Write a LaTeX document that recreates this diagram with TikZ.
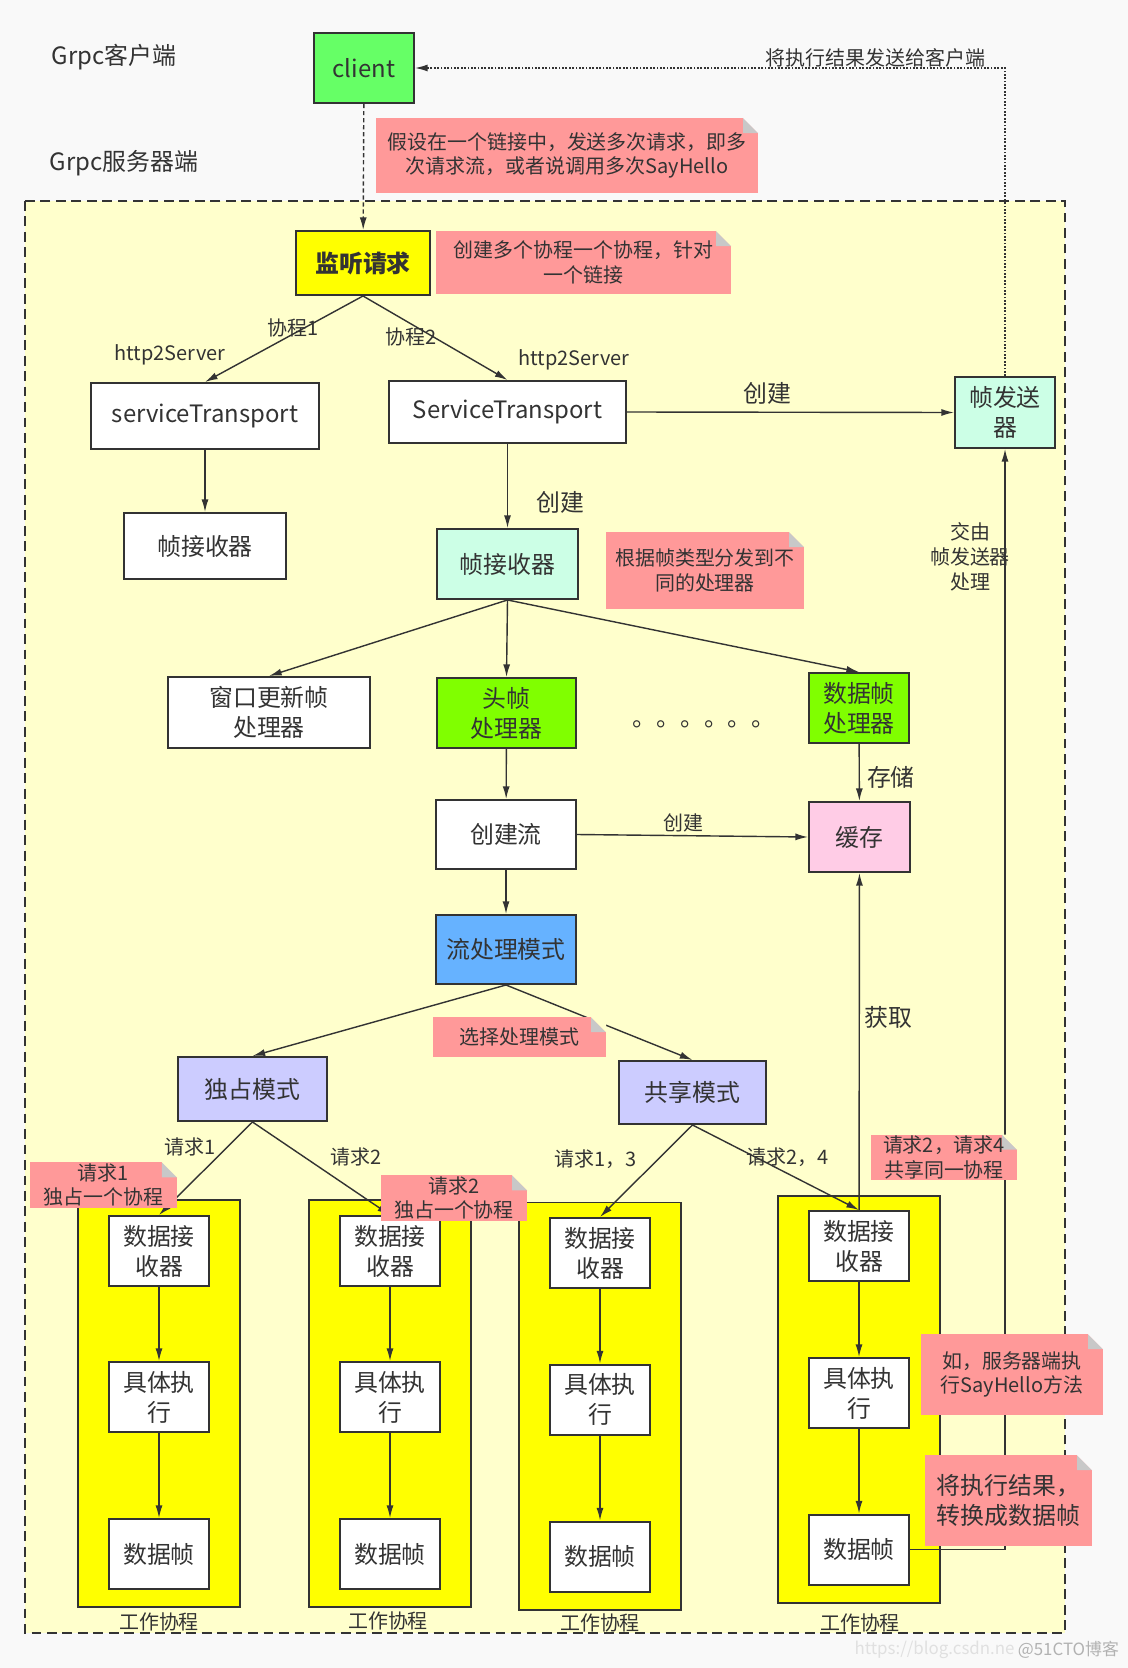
\documentclass[tikz,border=0pt]{standalone}
\usepackage{fontspec}
\setmainfont{Noto Sans CJK SC}
\usetikzlibrary{arrows.meta}

\definecolor{pagebg}{HTML}{F9F9F9}
\definecolor{srvbg}{HTML}{FFFFCC}
\definecolor{linedark}{HTML}{333333}
\definecolor{textdark}{HTML}{333333}
\definecolor{notepink}{HTML}{FF9999}
\definecolor{foldgray}{HTML}{C8C8C8}
\definecolor{clientgreen}{HTML}{66FF66}
\definecolor{mint}{HTML}{CCFFE6}
\definecolor{headgreen}{HTML}{80FF00}
\definecolor{cachepink}{HTML}{FFCCE6}
\definecolor{modeblue}{HTML}{66B2FF}
\definecolor{modepurple}{HTML}{CCCCFF}
\definecolor{workyellow}{HTML}{FFFF00}

\newcommand\boxfont{\fontsize{17}{21.3}\selectfont}
\newcommand\notefont{\fontsize{14.2}{17.3}\selectfont}
\newcommand\foldsz{0.375cm}

\tikzset{
	>={Latex[length=9pt,width=5pt]},
	wh/.style 2 args={minimum width=#1*0.025cm, minimum height=#2*0.025cm},
	box/.style={draw=linedark, line width=1.4pt, fill=white, text=textdark, font=\boxfont, align=center, inner sep=1pt},
	workframe/.style={draw=linedark, line width=1.4pt, fill=workyellow},
	note/.style={fill=notepink, text=textdark, font=\notefont, align=center, inner sep=1pt,
		path picture={\fill[foldgray] ([xshift=-\foldsz]path picture bounding box.north east) -- ([xshift=-\foldsz, yshift=-\foldsz]path picture bounding box.north east) -- ([yshift=-\foldsz]path picture bounding box.north east) -- cycle;
			\fill[#1] ([xshift=-\foldsz]path picture bounding box.north east) -- (path picture bounding box.north east) -- ([yshift=-\foldsz]path picture bounding box.north east) -- cycle;}},
	note/.default=srvbg,
	lbl/.style={text=textdark, font=\notefont, inner sep=2pt, align=center},
	biglbl/.style={lbl, font=\boxfont},
	conn/.style={draw=linedark, line width=1pt, ->}
}

\begin{document}
\begin{tikzpicture}[x=0.025cm, y=-0.025cm]
		\useasboundingbox (0,0) rectangle (1128,1668);
		\fill[pagebg] (0,0) rectangle (1128,1668);
		\draw[linedark, line width=1.4pt, dash pattern=on 7pt off 4pt, fill=srvbg] (25,201) rectangle (1065,1633);

		\node[biglbl] (cliLbl) at (114,57) {Grpc客户端};
		\node[biglbl] (srvLbl) at (124,163) {Grpc服务器端};

		\node[box, wh={100}{70}, fill=clientgreen] (client) at (364,68) {client};
		\node[box, wh={134}{64}, fill=workyellow, font=\boxfont\bfseries] (listen) at (363,263) {监听请求};
		\node[box, wh={228}{66}] (stL) at (205,416) {serviceTransport};
		\node[box, wh={237}{62}] (stR) at (507.5,412) {ServiceTransport};
		\node[box, wh={100}{71}, fill=mint] (sender) at (1005,412.5) {帧发送\\器};
		\node[box, wh={162}{66}] (recvL) at (205,546) {帧接收器};
		\node[box, wh={141}{70}, fill=mint] (recvM) at (507.5,564) {帧接收器};
		\node[box, wh={202}{71}] (winUpd) at (269,712.5) {窗口更新帧\\处理器};
		\node[box, wh={139}{70}, fill=headgreen] (hdr) at (506.5,713) {头帧\\处理器};
		\node[box, wh={100}{70}, fill=headgreen] (dataProc) at (859,708) {数据帧\\处理器};
		\node[biglbl, inner sep=0pt] (dots) at (704,724) {。。。。。。};
		\node[box, wh={101}{70}, fill=cachepink] (cache) at (859.5,837) {缓存};
		\node[box, wh={140}{69}] (crStream) at (506,834.5) {创建流};
		\node[box, wh={140}{69}, fill=modeblue] (modeSel) at (506,949.5) {流处理模式};
		\node[box, wh={149}{64}, fill=modepurple] (excl) at (252.5,1089) {独占模式};
		\node[box, wh={147}{63}, fill=modepurple] (shared) at (692.5,1092.5) {共享模式};

		\node[workframe, wh={162}{407}] (w1) at (159,1403.5) {};
		\node[box, wh={100}{70}] (r1) at (159,1251) {数据接\\收器};
		\node[box, wh={100}{70}] (e1) at (159,1397) {具体执\\行};
		\node[box, wh={100}{70}] (d1) at (159,1554) {数据帧};
		\node[lbl] (wl1) at (159,1622) {工作协程};

		\node[workframe, wh={162}{407}] (w2) at (390,1403.5) {};
		\node[box, wh={100}{70}] (r2) at (390,1251) {数据接\\收器};
		\node[box, wh={100}{70}] (e2) at (390,1397) {具体执\\行};
		\node[box, wh={100}{70}] (d2) at (390,1554) {数据帧};
		\node[lbl] (wl2) at (388,1621) {工作协程};

		\node[workframe, wh={162}{407}] (w3) at (600,1406) {};
		\node[box, wh={100}{70}] (r3) at (600,1253) {数据接\\收器};
		\node[box, wh={100}{70}] (e3) at (600,1399.5) {具体执\\行};
		\node[box, wh={100}{70}] (d3) at (600,1556.5) {数据帧};
		\node[lbl] (wl3) at (600,1623) {工作协程};

		\node[workframe, wh={162}{407}] (w4) at (859,1399.5) {};
		\node[box, wh={100}{70}] (r4) at (859,1246) {数据接\\收器};
		\node[box, wh={100}{70}] (e4) at (859,1393) {具体执\\行};
		\node[box, wh={100}{70}] (d4) at (859,1549.5) {数据帧};
		\node[lbl] (wl4) at (860,1623) {工作协程};

		\node[lbl] (h2L) at (170,355) {http2Server};
		\node[lbl] (h2R) at (574,360) {http2Server};
		\node[lbl, font=\fontsize{14.2}{17.8}\selectfont] (hand) at (970,557) {交由\\帧发送器\\处理};

		\draw[conn, dash pattern=on 3pt off 2pt] (client) -- (listen);
		\draw[conn, dash pattern=on 1.2pt off 1.2pt] (sender.north) |- (client.east) node[lbl, pos=.61, above=-2pt] (fbLbl) {将执行结果发送给客户端};
		\draw[conn] (listen.south) -- (stL.north) node[lbl, pos=.44, yshift=4pt] (co1) {协程1};
		\draw[conn] (listen.south) -- (stR.north) node[lbl, pos=.33, below=0pt] (co2) {协程2};
		\draw[conn] (stR.east) -- (sender.west) node[biglbl, pos=.43, above=3pt] (mk1) {创建};
		\draw[conn] (stL) -- (recvL);
		\draw[conn] (stR) -- (recvM) node[biglbl, pos=.69, right=18pt] (mk2) {创建};
		\draw[conn] (recvM.south) -- (winUpd.north);
		\draw[conn] (recvM.south) -- (hdr.north);
		\draw[conn] (recvM.south) -- (dataProc.north);
		\draw[conn] (dataProc) -- (cache) node[biglbl, pos=.59, right=3pt] (mk3) {存储};
		\draw[conn] (hdr) -- (crStream);
		\draw[conn] (crStream.east) -- (cache.west) node[lbl, pos=.46, above=0pt] (mk4) {创建};
		\draw[conn] (crStream) -- (modeSel);
		\draw[conn] (modeSel.south) -- (excl.north);
		\draw[conn] (modeSel.south) -- (shared.north);
		\draw[conn] (excl.south) -- (r1.north) node[lbl, pos=.27, left=6pt] (q1) {请求1};
		\draw[conn] (excl.south) -- (r2.north) node[lbl, pos=.38, right=16pt] (q2) {请求2};
		\draw[conn] (shared.south) -- (r3.north) node[lbl, pos=.37, left=13pt] (q13) {请求1，3};
		\draw[conn] (shared.south) -- (r4.north) node[lbl, pos=.38, right=-9pt] (q24) {请求2，4};
		\draw[conn] (r1) -- (e1);
		\draw[conn] (e1) -- (d1);
		\draw[conn] (r2) -- (e2);
		\draw[conn] (e2) -- (d2);
		\draw[conn] (r3) -- (e3);
		\draw[conn] (e3) -- (d3);
		\draw[conn] (r4) -- (e4);
		\draw[conn] (e4) -- (d4);
		\draw[conn] (r4) -- (cache) node[biglbl, pos=.57, right=1pt] (mk5) {获取};
		\draw[conn] (d4.east) -| (sender.south);

		\node[note=pagebg, wh={382}{75}] (nReq) at (567,155.5) {假设在一个链接中，发送多次请求，即多\\次请求流，或者说调用多次SayHello};
		\node[note, wh={295}{63}] (nCoro) at (583.5,262.5) {创建多个协程一个协程，针对\\一个链接};
		\node[note, wh={198}{77}] (nDisp) at (705,570.5) {根据帧类型分发到不\\同的处理器};
		\node[note, wh={173}{40}] (nMode) at (519.5,1037) {选择处理模式};
		\node[note, wh={147}{44}] (nEx1) at (103.5,1185) {请求1\\独占一个协程};
		\node[note, wh={146}{42}] (nEx2) at (454,1198) {请求2\\独占一个协程};
		\node[note, wh={146}{43}] (nSh) at (944,1157.5) {请求2，请求4\\共享同一协程};
		\node[note=pagebg, wh={182}{81}] (nExec) at (1012,1374.5) {如，服务器端执\\行SayHello方法};
		\node[note=pagebg, wh={167}{91}, font=\boxfont] (nConv) at (1008.5,1500.5) {将执行结果，\\转换成数据帧};

		\node[lbl, text=black!30, font=\fontsize{12}{14}\selectfont, anchor=east] (wm2) at (1122,1650) {@51CTO博客};
		\node[lbl, text=black!12, font=\fontsize{12}{14}\selectfont, anchor=east, inner xsep=0pt] (wm1) at (wm2.west) {https://blog.csdn.ne};
	\end{tikzpicture}
\end{document}
